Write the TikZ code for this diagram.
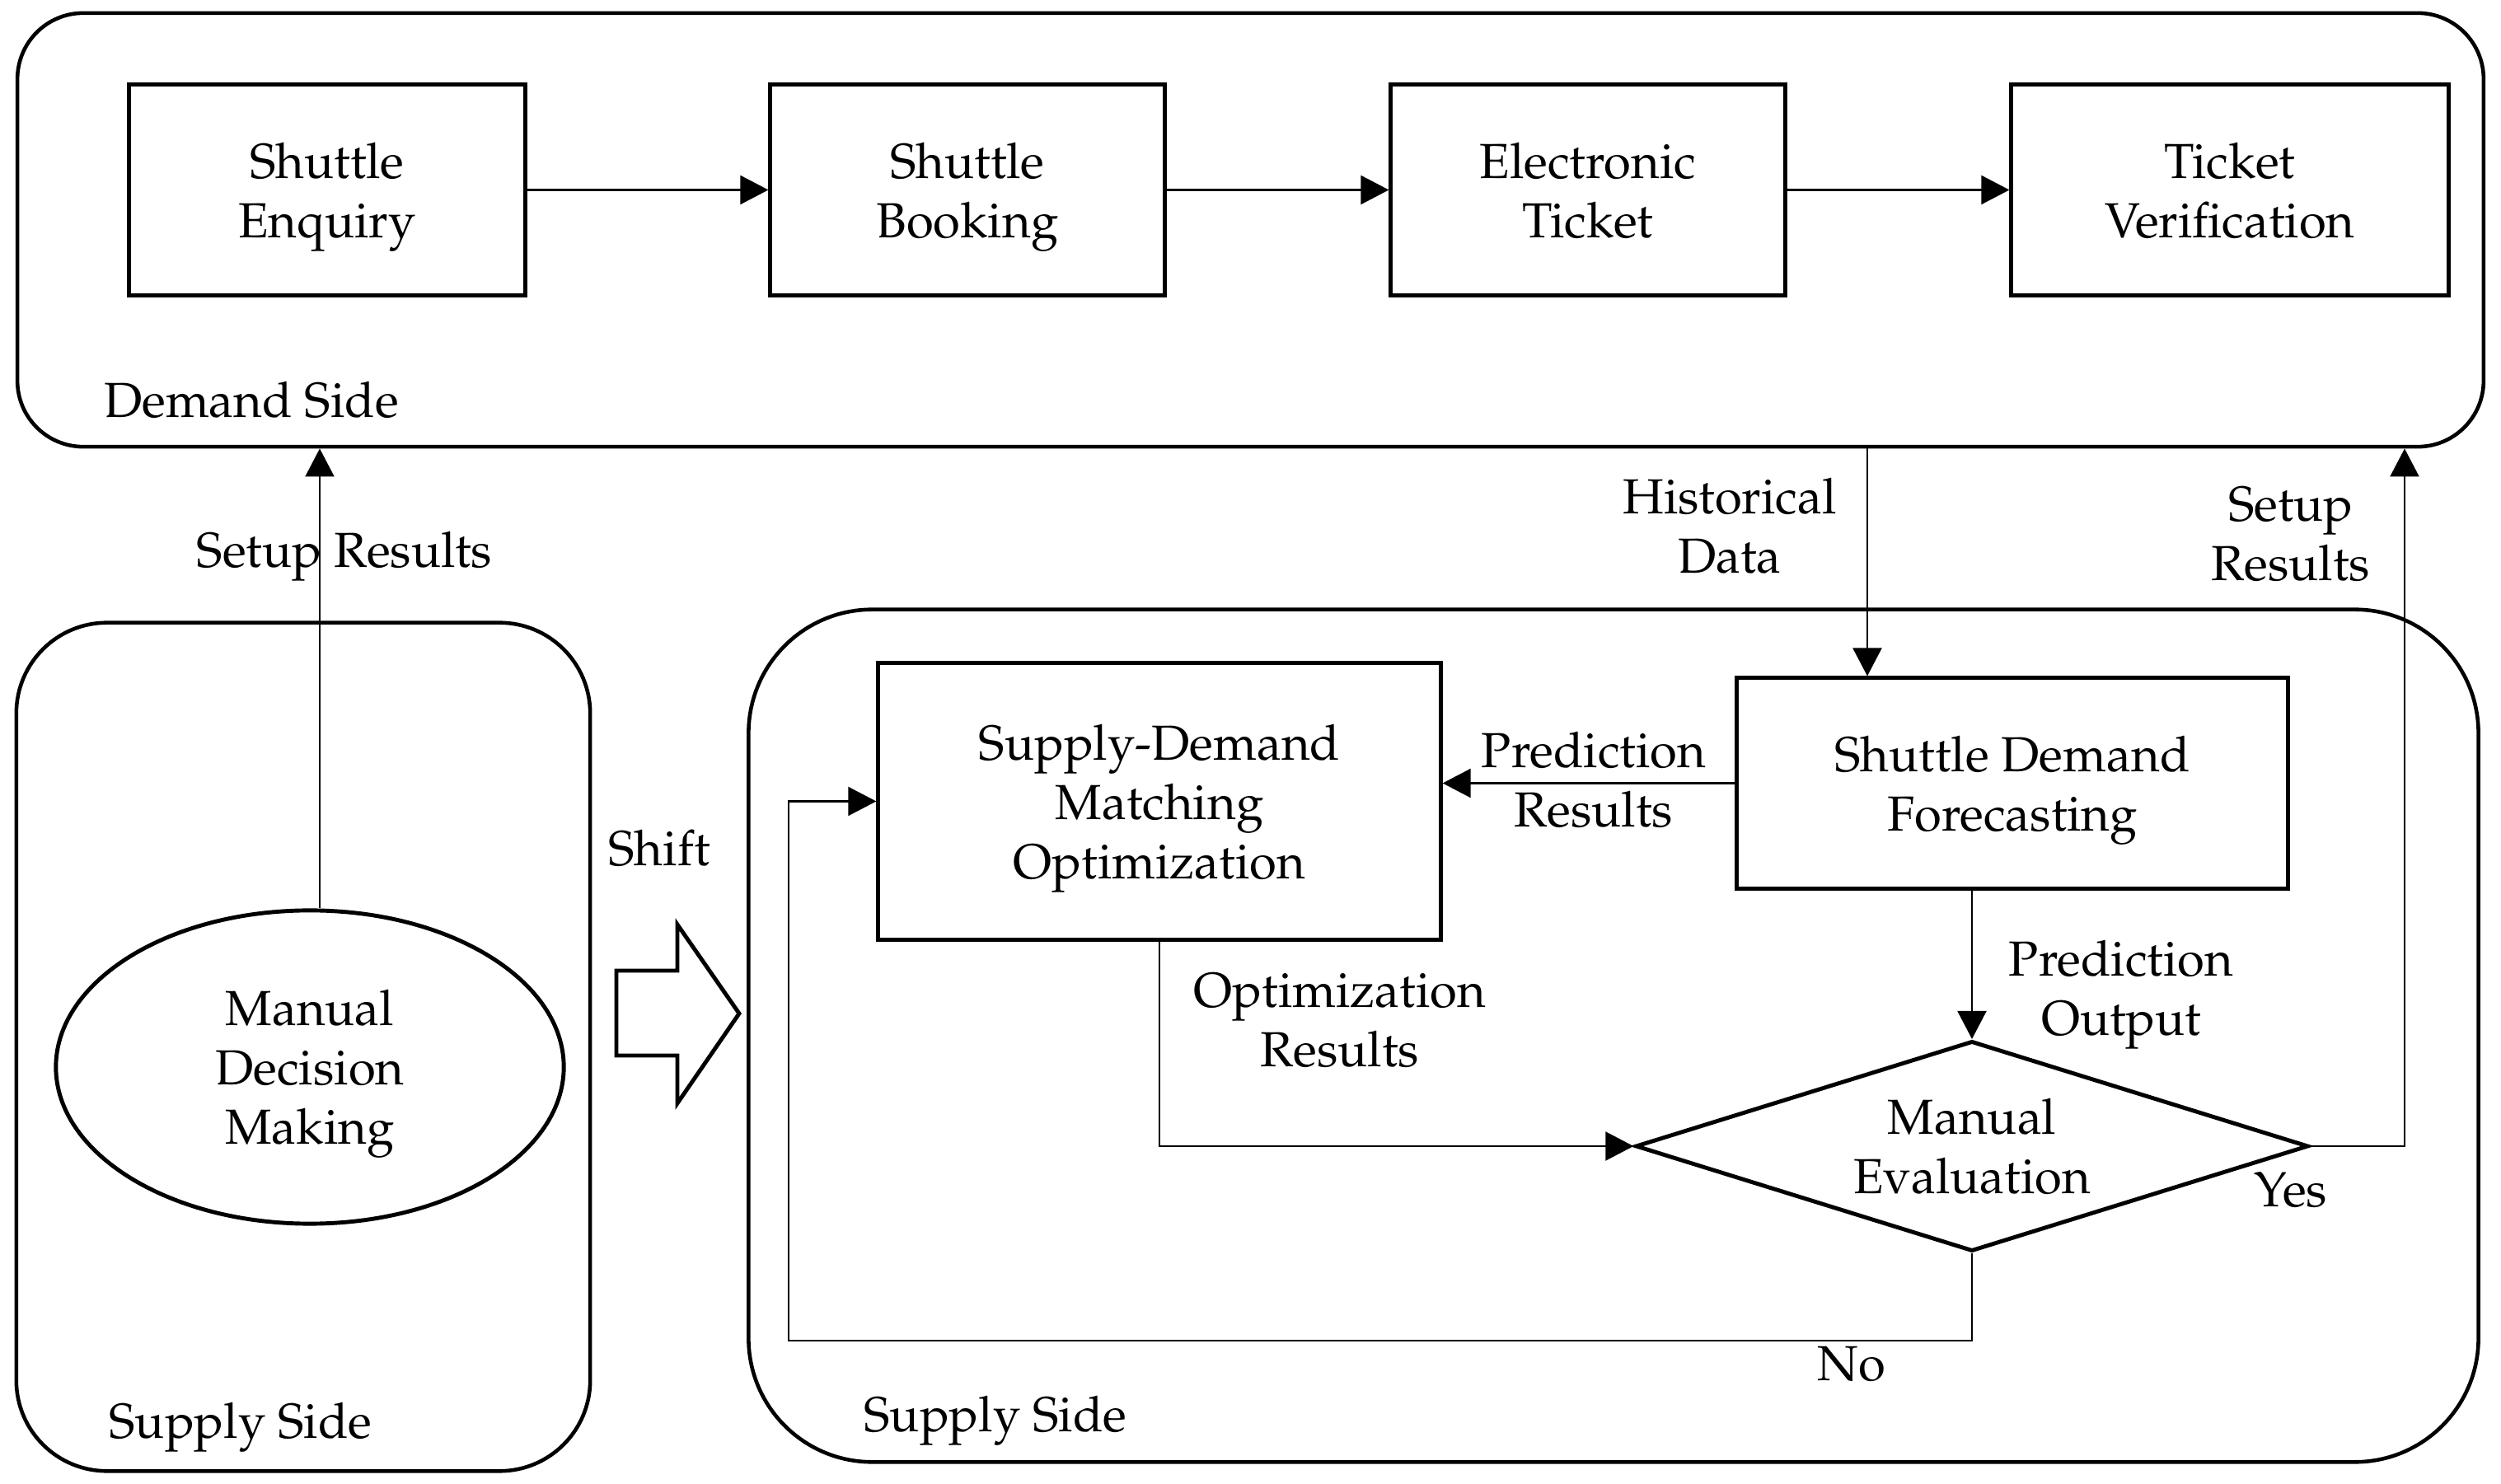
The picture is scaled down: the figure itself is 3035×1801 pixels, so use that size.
\documentclass[tikz,border=0pt]{standalone}
\usepackage[T1]{fontenc}
\usepackage{mathpazo}
\usetikzlibrary{arrows.meta,shapes.geometric,calc}
\begin{document}
\begin{tikzpicture}[x=0.01cm,y=-0.01cm,
  txt/.style={font=\fontsize{17}{20.5}\selectfont, text depth=0pt},
  box/.style={draw, line width=1.4pt, rectangle, inner sep=0pt, align=center, txt},
  container/.style={draw, line width=1.3pt, rectangle, inner sep=0pt},
  lbl/.style={align=center, inner sep=0pt, txt},
  conn/.style={line width=0.6pt},
  arr/.style={line width=0.6pt, -{Triangle[length=0.34cm,width=0.35cm]}}]
\useasboundingbox (0,0) rectangle (3035,1801);

% containers
\node[container, rounded corners=0.8cm, minimum width=29.91cm, minimum height=5.26cm] (demand) at (1517.5,279) {};
\node[container, rounded corners=1.1cm, minimum width=6.96cm, minimum height=10.29cm] (supL) at (368,1270.5) {};
\node[container, rounded corners=1.5cm, minimum width=20.98cm, minimum height=10.34cm] (supR) at (1958,1257) {};

% demand side boxes
\node[box, minimum width=4.8cm, minimum height=2.55cm] (b1) at (397,230.5) {Shuttle\\Enquiry};
\node[box, minimum width=4.78cm, minimum height=2.55cm] (b2) at (1174,230.5) {Shuttle\\Booking};
\node[box, minimum width=4.78cm, minimum height=2.55cm] (b3) at (1927,230.5) {Electronic\\Ticket};
\node[box, minimum width=5.30cm, minimum height=2.55cm] (b4) at (2706,230.5) {Ticket\\Verification};
\node[lbl] (ldemand) at (305,485) {Demand Side};

\draw[arr] (b1.east) -- (b2.west);
\draw[arr] (b2.east) -- (b3.west);
\draw[arr] (b3.east) -- (b4.west);

% left supply side
\node[draw, ellipse, line width=1.4pt, inner sep=0pt, minimum width=6.16cm, minimum height=3.80cm, align=center, txt] (ell) at (376,1295) {Manual\\Decision\\Making};
\node[lbl] (lsupL) at (292,1724) {Supply Side};
\draw[arr] ([xshift=0.12cm]ell.north) -- ([xshift=0.12cm]ell.north |- demand.south);
\node[lbl] (lsetupL) at (418,667) {Setup Results};

% shift arrow
\node[lbl] (lshift) at (800,1029) {Shift};
\draw[line width=1.4pt, line join=miter] (748,1178) -- (822,1178) -- (822,1122) -- (897,1230) -- (822,1339) -- (822,1281) -- (748,1281) -- cycle;

% right supply side
\node[box, minimum width=6.82cm, minimum height=3.35cm] (match) at (1407,972.5) {Supply-Demand\\Matching\\Optimization};
\node[box, minimum width=6.68cm, minimum height=2.55cm] (fore) at (2442,950.5) {Shuttle Demand\\Forecasting};
\node[draw, diamond, aspect=3.2, line width=1.4pt, inner sep=0pt, minimum width=8.16cm, minimum height=2.55cm, align=center, txt] (dia) at (2393,1391) {Manual\\Evaluation};
\node[lbl] (lsupR) at (1208,1716) {Supply Side};

\coordinate (hx) at (2266,0);
\coordinate (yx) at (2918,0);
\coordinate (nc) at (957,1627);

\draw[arr] (demand.south -| hx) -- (hx |- fore.north);
\node[lbl] (lhist) at (2099,638) {Historical\\Data};

\draw[arr] (fore.west) -- (fore.west -| match.east);
\node[lbl] (lpred) at (1934,946) {Prediction\\Results};

\draw[arr] (dia.north |- fore.south) -- (dia.north);
\node[lbl] (lpout) at (2574,1199) {Prediction\\Output};

\draw[arr] (match.south) |- (dia.west);
\node[lbl] (lopt) at (1626,1238) {Optimization\\Results};

\draw[arr] (dia.south) |- (nc) |- (match.west);
\node[lbl] (lno) at (2247,1655) {No};

\draw[arr] (dia.east) -| (demand.south -| yx);
\node[lbl] (lyes) at (2780,1444) {Yes};
\node[lbl] (lsetupR) at (2780,648) {Setup\\Results};
\end{tikzpicture}
\end{document}
